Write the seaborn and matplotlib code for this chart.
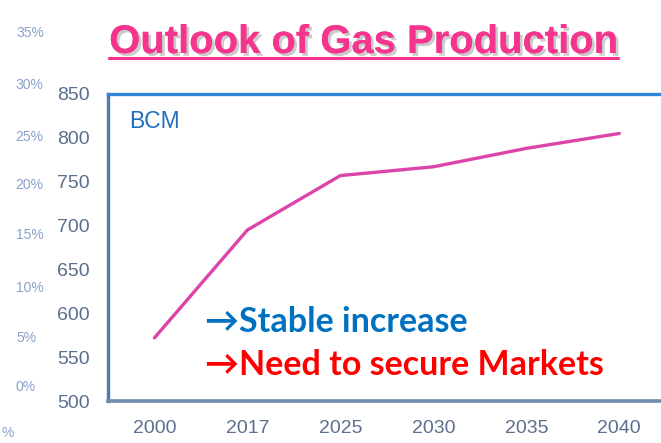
import matplotlib
matplotlib.use("Agg")
import matplotlib.pyplot as plt
import matplotlib.patheffects as pe
from matplotlib.lines import Line2D
import numpy as np
import pandas as pd
import seaborn as sns

# Gas production outlook, billion cubic metres
years = ["2000", "2017", "2025", "2030", "2035", "2040"]
production_bcm = [572, 695, 757, 767, 788, 805]
y_ticks = [500, 550, 600, 650, 700, 750, 800, 850]

# faint percentage scale on the far left
pct_labels = ["35%", "30%", "25%", "20%", "15%", "10%", "5%", "0%", "%"]
pct_pos_px = [(16, 33), (15, 85), (15, 137), (15, 185), (16, 235),
              (16, 288), (16, 338), (16, 387), (1, 433)]

W, H = 661, 443
sns.set_theme(style="white")
plt.rcParams["font.family"] = ["Liberation Sans", "DejaVu Sans"]

fig = plt.figure(figsize=(W / 100, H / 100), dpi=100)
fig.patch.set_facecolor("white")

ax = fig.add_axes([108 / W, 1 - 401 / H, (W - 108) / W + 0.01, (401 - 94) / H])
df = pd.DataFrame({"pos": np.arange(len(years)), "bcm": production_bcm})
sns.lineplot(data=df, x="pos", y="bcm", ax=ax, color="#DD44AA", linewidth=2.4,
             sort=False, legend=False)

ax.set_xlim(-0.5, 5.52)
ax.set_ylim(500, 850)
ax.set_xticks(df["pos"])
ax.set_xticklabels(years)
ax.set_yticks(y_ticks)
ax.set_xlabel("")
ax.set_ylabel("")
ax.tick_params(axis="both", length=0, labelsize=14, labelcolor="#5B6F8E")
ax.tick_params(axis="y", pad=13)
ax.tick_params(axis="x", pad=14)

ax.spines["right"].set_visible(False)
ax.spines["left"].set_color("#4C7CB2")
ax.spines["left"].set_linewidth(2.4)
ax.spines["top"].set_color("#2F86D8")
ax.spines["top"].set_linewidth(2.4)
ax.spines["bottom"].set_color("#6F8BAF")
ax.spines["bottom"].set_linewidth(2.6)

ax.text(129 / W, 1 - 122 / H, "BCM", transform=fig.transFigure, fontsize=16.5,
        color="#1F6FBF", va="center", ha="left")

# key messages
msg_family = ["Lato", "DejaVu Sans"]
ax.text(205 / W, 1 - 332 / H, "\u2192Stable increase", transform=fig.transFigure,
        fontsize=24.5, fontweight="bold", color="#0070C0", family=msg_family,
        va="baseline", ha="left")
ax.text(205 / W, 1 - 375 / H, "\u2192Need to secure Markets", transform=fig.transFigure,
        fontsize=24.5, fontweight="bold", color="#FF0000", family=msg_family,
        va="baseline", ha="left")

for lab, (px, py) in zip(pct_labels, pct_pos_px):
    fig.text(px / W, 1 - py / H, lab, fontsize=10, color="#7C96C6",
             va="center", ha="left", alpha=0.9)

# underlined headline with drop shadow
shadow = [pe.withSimplePatchShadow(offset=(2, -2), shadow_rgbFace="#999999", alpha=0.5),
          pe.Normal()]
title = fig.text(363.5 / W, 1 - 53 / H, "Outlook of Gas Production",
                 fontsize=28.8, fontweight="bold", color="#F5348E",
                 family=["Liberation Sans Narrow", "Liberation Sans"],
                 ha="center", va="baseline", path_effects=shadow)
fig.canvas.draw()
bb = title.get_window_extent()
uy = 1 - 58 / H
fig.add_artist(Line2D([bb.x0 / W, bb.x1 / W], [uy, uy], transform=fig.transFigure,
                      color="#F5348E", linewidth=2.2, path_effects=shadow))

fig.savefig("out.png", dpi=100, facecolor="white")
